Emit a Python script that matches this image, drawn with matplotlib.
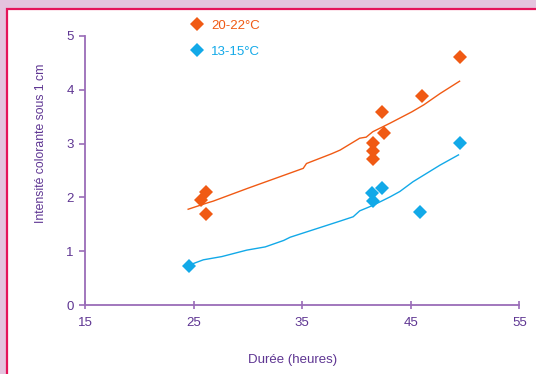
import matplotlib.pyplot as plt
from matplotlib.patches import Rectangle
from matplotlib.lines import Line2D

# measured points
warm_x = [25.7, 26.1, 26.1, 41.5, 41.5, 41.5, 42.4, 42.5, 46.0, 49.5]
warm_y = [1.95, 2.10, 1.69, 3.02, 2.87, 2.71, 3.58, 3.20, 3.88, 4.61]
cold_x = [24.6, 41.4, 42.4, 41.5, 45.85, 49.5]
cold_y = [0.73, 2.09, 2.18, 1.93, 1.72, 3.02]

# trend curves
warm_fit_x = [24.5, 26.3, 26.8, 30.0, 35.1, 35.4, 37.7, 38.5, 40.3, 40.9, 41.5, 43.1, 45.1, 46.2, 47.7, 49.5]
warm_fit_y = [1.78, 1.90, 1.93, 2.17, 2.54, 2.63, 2.81, 2.88, 3.10, 3.12, 3.22, 3.38, 3.59, 3.72, 3.93, 4.16]
cold_fit_x = [24.97, 25.9, 27.6, 29.9, 31.6, 33.3, 33.9, 38.5, 39.7, 40.3, 41.5, 42.5, 43.1, 44.0, 45.2, 47.7, 49.4]
cold_fit_y = [0.77, 0.84, 0.90, 1.02, 1.08, 1.20, 1.26, 1.56, 1.64, 1.75, 1.85, 1.95, 2.01, 2.11, 2.29, 2.60, 2.79]

labels = ["20-22°C", "13-15°C"]
ORANGE = "#f05a14"
BLUE = "#12a9e8"
PURPLE = "#5e3592"
AXIS = "#9a6cb8"

plt.rcParams["font.family"] = ["Liberation Sans", "DejaVu Sans"]

fig = plt.figure(figsize=(5.36, 3.74), dpi=100)
fig.patch.set_facecolor("#e4c4de")
panel = Rectangle((7 / 536, -0.05), 1.0, 1 - 9 / 374 + 0.05,
                  transform=fig.transFigure, facecolor="white",
                  edgecolor="#e5145a", linewidth=1.6, zorder=-10)
fig.patches.append(panel)

ax = fig.add_axes([85 / 536, 1 - 305 / 374, 434.3 / 536, 269 / 374])
ax.patch.set_alpha(0)

ax.plot(warm_fit_x, warm_fit_y, color=ORANGE, lw=1.0)
ax.plot(cold_fit_x, cold_fit_y, color=BLUE, lw=1.0)
ax.plot(warm_x, warm_y, "D", color=ORANGE, ms=6.7, mew=0, clip_on=False)
ax.plot(cold_x, cold_y, "D", color=BLUE, ms=6.7, mew=0, clip_on=False)

ax.set_xlim(15, 55)
ax.set_ylim(0, 5)
ax.set_xticks([15, 25, 35, 45, 55])
ax.set_yticks([0, 1, 2, 3, 4, 5])
for s in ["top", "right"]:
    ax.spines[s].set_visible(False)
for s in ["left", "bottom"]:
    ax.spines[s].set_color(AXIS)
    ax.spines[s].set_linewidth(1.3)
ax.tick_params(axis="x", direction="inout", length=6, width=1.2, color=AXIS,
               labelcolor=PURPLE, labelsize=9.5, pad=6)
ax.tick_params(axis="y", direction="out", length=4, width=1.2, color=AXIS,
               labelcolor=PURPLE, labelsize=9.5, pad=4)

ax.set_xlabel("Durée (heures)", color=PURPLE, fontsize=9.5)
ax.xaxis.set_label_coords(0.477, -0.184)
ax.set_ylabel("Intensité colorante sous 1 cm", color=PURPLE, fontsize=8.8)
ax.yaxis.set_label_coords(-0.088, 0.602)

handles = [Line2D([], [], marker="D", ls="", color=ORANGE, ms=6.7, mew=0),
           Line2D([], [], marker="D", ls="", color=BLUE, ms=6.7, mew=0)]
leg = fig.legend(handles, labels, loc="upper left", bbox_to_anchor=(177 / 536, 1 - 8 / 374),
                 frameon=False, fontsize=9.5, handletextpad=0.5, labelspacing=1.0,
                 handlelength=1.2, labelcolor=[ORANGE, BLUE])

fig.savefig("out.png", dpi=100, facecolor=fig.get_facecolor())
